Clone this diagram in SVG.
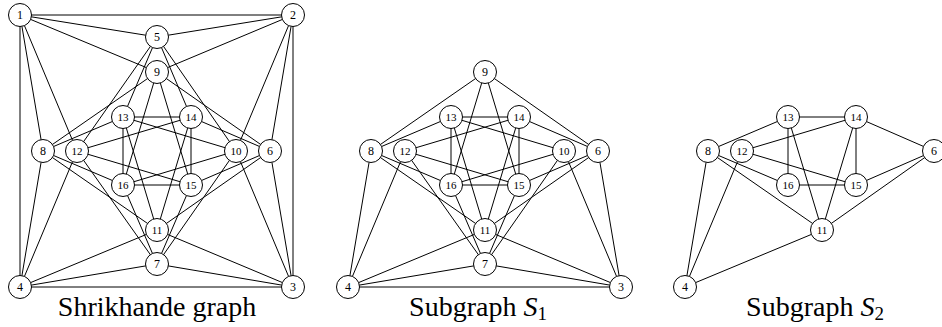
<svg xmlns="http://www.w3.org/2000/svg" width="942" height="327" viewBox="0 0 942 327">
<style>
.e line{stroke:#000;stroke-width:1;fill:none}
.n circle{fill:#fff;stroke:#000;stroke-width:1}
.n text{font-family:"Liberation Serif","DejaVu Serif",serif;font-size:12px;text-anchor:middle;fill:#000}
.n text.d{font-size:11px}
.cap{font-family:"Liberation Serif","DejaVu Serif",serif;font-size:28px;text-anchor:middle;fill:#000}
</style>
<rect width="942" height="327" fill="#fff"/>
<!-- Shrikhande graph -->
<g id="G-edges" class="e">
<line x1="20" y1="15" x2="293" y2="15"/>
<line x1="20" y1="15" x2="20" y2="287"/>
<line x1="20" y1="15" x2="157" y2="37"/>
<line x1="20" y1="15" x2="157" y2="72"/>
<line x1="20" y1="15" x2="43" y2="151"/>
<line x1="20" y1="15" x2="77" y2="151"/>
<line x1="293" y1="15" x2="293" y2="287"/>
<line x1="293" y1="15" x2="157" y2="37"/>
<line x1="293" y1="15" x2="157" y2="72"/>
<line x1="293" y1="15" x2="236" y2="151"/>
<line x1="293" y1="15" x2="270" y2="151"/>
<line x1="293" y1="287" x2="20" y2="287"/>
<line x1="293" y1="287" x2="270" y2="151"/>
<line x1="293" y1="287" x2="236" y2="151"/>
<line x1="293" y1="287" x2="157" y2="230"/>
<line x1="293" y1="287" x2="157" y2="264"/>
<line x1="20" y1="287" x2="43" y2="151"/>
<line x1="20" y1="287" x2="77" y2="151"/>
<line x1="20" y1="287" x2="157" y2="230"/>
<line x1="20" y1="287" x2="157" y2="264"/>
<line x1="157" y1="37" x2="77" y2="151"/>
<line x1="157" y1="37" x2="123" y2="117"/>
<line x1="157" y1="37" x2="191" y2="117"/>
<line x1="157" y1="37" x2="236" y2="151"/>
<line x1="157" y1="72" x2="43" y2="151"/>
<line x1="157" y1="72" x2="270" y2="151"/>
<line x1="157" y1="72" x2="123" y2="185"/>
<line x1="157" y1="72" x2="191" y2="185"/>
<line x1="123" y1="117" x2="191" y2="117"/>
<line x1="123" y1="117" x2="123" y2="185"/>
<line x1="123" y1="117" x2="236" y2="151"/>
<line x1="123" y1="117" x2="43" y2="151"/>
<line x1="123" y1="117" x2="157" y2="230"/>
<line x1="191" y1="117" x2="191" y2="185"/>
<line x1="191" y1="117" x2="270" y2="151"/>
<line x1="191" y1="117" x2="77" y2="151"/>
<line x1="191" y1="117" x2="157" y2="230"/>
<line x1="43" y1="151" x2="123" y2="185"/>
<line x1="43" y1="151" x2="157" y2="230"/>
<line x1="77" y1="151" x2="191" y2="185"/>
<line x1="77" y1="151" x2="157" y2="264"/>
<line x1="123" y1="185" x2="191" y2="185"/>
<line x1="123" y1="185" x2="236" y2="151"/>
<line x1="123" y1="185" x2="157" y2="264"/>
<line x1="191" y1="185" x2="270" y2="151"/>
<line x1="191" y1="185" x2="157" y2="264"/>
<line x1="236" y1="151" x2="157" y2="264"/>
<line x1="270" y1="151" x2="157" y2="230"/>
</g>
<g id="G-n1" class="n"><circle cx="20" cy="15" r="11.5"/><text x="20" y="19">1</text></g>
<g id="G-n2" class="n"><circle cx="293" cy="15" r="11.5"/><text x="293" y="19">2</text></g>
<g id="G-n3" class="n"><circle cx="293" cy="287" r="11.5"/><text x="293" y="291">3</text></g>
<g id="G-n4" class="n"><circle cx="20" cy="287" r="11.5"/><text x="20" y="291">4</text></g>
<g id="G-n5" class="n"><circle cx="157" cy="37" r="11.5"/><text x="157" y="41">5</text></g>
<g id="G-n6" class="n"><circle cx="270" cy="151" r="11.5"/><text x="270" y="155">6</text></g>
<g id="G-n7" class="n"><circle cx="157" cy="264" r="11.5"/><text x="157" y="268">7</text></g>
<g id="G-n8" class="n"><circle cx="43" cy="151" r="11.5"/><text x="43" y="155">8</text></g>
<g id="G-n9" class="n"><circle cx="157" cy="72" r="11.5"/><text x="157" y="76">9</text></g>
<g id="G-n10" class="n"><circle cx="236" cy="151" r="11.5"/><text class="d" x="236" y="155">10</text></g>
<g id="G-n11" class="n"><circle cx="157" cy="230" r="11.5"/><text class="d" x="157" y="234">11</text></g>
<g id="G-n12" class="n"><circle cx="77" cy="151" r="11.5"/><text class="d" x="77" y="155">12</text></g>
<g id="G-n13" class="n"><circle cx="123" cy="117" r="11.5"/><text class="d" x="123" y="121">13</text></g>
<g id="G-n14" class="n"><circle cx="191" cy="117" r="11.5"/><text class="d" x="191" y="121">14</text></g>
<g id="G-n15" class="n"><circle cx="191" cy="185" r="11.5"/><text class="d" x="191" y="189">15</text></g>
<g id="G-n16" class="n"><circle cx="123" cy="185" r="11.5"/><text class="d" x="123" y="189">16</text></g>
<text class="cap" x="157" y="316">Shrikhande graph</text>
<!-- Subgraph S1 -->
<g id="S1-edges" class="e">
<line x1="621" y1="287" x2="348" y2="287"/>
<line x1="621" y1="287" x2="598" y2="151"/>
<line x1="621" y1="287" x2="564" y2="151"/>
<line x1="621" y1="287" x2="485" y2="230"/>
<line x1="621" y1="287" x2="485" y2="264"/>
<line x1="348" y1="287" x2="371" y2="151"/>
<line x1="348" y1="287" x2="405" y2="151"/>
<line x1="348" y1="287" x2="485" y2="230"/>
<line x1="348" y1="287" x2="485" y2="264"/>
<line x1="485" y1="72" x2="371" y2="151"/>
<line x1="485" y1="72" x2="598" y2="151"/>
<line x1="485" y1="72" x2="451" y2="185"/>
<line x1="485" y1="72" x2="519" y2="185"/>
<line x1="451" y1="117" x2="519" y2="117"/>
<line x1="451" y1="117" x2="451" y2="185"/>
<line x1="451" y1="117" x2="564" y2="151"/>
<line x1="451" y1="117" x2="371" y2="151"/>
<line x1="451" y1="117" x2="485" y2="230"/>
<line x1="519" y1="117" x2="519" y2="185"/>
<line x1="519" y1="117" x2="598" y2="151"/>
<line x1="519" y1="117" x2="405" y2="151"/>
<line x1="519" y1="117" x2="485" y2="230"/>
<line x1="371" y1="151" x2="451" y2="185"/>
<line x1="371" y1="151" x2="485" y2="230"/>
<line x1="405" y1="151" x2="519" y2="185"/>
<line x1="405" y1="151" x2="485" y2="264"/>
<line x1="451" y1="185" x2="519" y2="185"/>
<line x1="451" y1="185" x2="564" y2="151"/>
<line x1="451" y1="185" x2="485" y2="264"/>
<line x1="519" y1="185" x2="598" y2="151"/>
<line x1="519" y1="185" x2="485" y2="264"/>
<line x1="564" y1="151" x2="485" y2="264"/>
<line x1="598" y1="151" x2="485" y2="230"/>
</g>
<g id="S1-n3" class="n"><circle cx="621" cy="287" r="11.5"/><text x="621" y="291">3</text></g>
<g id="S1-n4" class="n"><circle cx="348" cy="287" r="11.5"/><text x="348" y="291">4</text></g>
<g id="S1-n6" class="n"><circle cx="598" cy="151" r="11.5"/><text x="598" y="155">6</text></g>
<g id="S1-n7" class="n"><circle cx="485" cy="264" r="11.5"/><text x="485" y="268">7</text></g>
<g id="S1-n8" class="n"><circle cx="371" cy="151" r="11.5"/><text x="371" y="155">8</text></g>
<g id="S1-n9" class="n"><circle cx="485" cy="72" r="11.5"/><text x="485" y="76">9</text></g>
<g id="S1-n10" class="n"><circle cx="564" cy="151" r="11.5"/><text class="d" x="564" y="155">10</text></g>
<g id="S1-n11" class="n"><circle cx="485" cy="230" r="11.5"/><text class="d" x="485" y="234">11</text></g>
<g id="S1-n12" class="n"><circle cx="405" cy="151" r="11.5"/><text class="d" x="405" y="155">12</text></g>
<g id="S1-n13" class="n"><circle cx="451" cy="117" r="11.5"/><text class="d" x="451" y="121">13</text></g>
<g id="S1-n14" class="n"><circle cx="519" cy="117" r="11.5"/><text class="d" x="519" y="121">14</text></g>
<g id="S1-n15" class="n"><circle cx="519" cy="185" r="11.5"/><text class="d" x="519" y="189">15</text></g>
<g id="S1-n16" class="n"><circle cx="451" cy="185" r="11.5"/><text class="d" x="451" y="189">16</text></g>
<text class="cap" x="478" y="316">Subgraph <tspan font-style="italic">S</tspan><tspan font-size="19" dy="4">1</tspan></text>
<!-- Subgraph S2 -->
<g id="S2-edges" class="e">
<line x1="685" y1="287" x2="708" y2="151"/>
<line x1="685" y1="287" x2="742" y2="151"/>
<line x1="685" y1="287" x2="822" y2="230"/>
<line x1="788" y1="117" x2="856" y2="117"/>
<line x1="788" y1="117" x2="788" y2="185"/>
<line x1="788" y1="117" x2="708" y2="151"/>
<line x1="788" y1="117" x2="822" y2="230"/>
<line x1="856" y1="117" x2="856" y2="185"/>
<line x1="856" y1="117" x2="934" y2="151"/>
<line x1="856" y1="117" x2="742" y2="151"/>
<line x1="856" y1="117" x2="822" y2="230"/>
<line x1="708" y1="151" x2="788" y2="185"/>
<line x1="708" y1="151" x2="822" y2="230"/>
<line x1="742" y1="151" x2="856" y2="185"/>
<line x1="788" y1="185" x2="856" y2="185"/>
<line x1="856" y1="185" x2="934" y2="151"/>
<line x1="934" y1="151" x2="822" y2="230"/>
</g>
<g id="S2-n4" class="n"><circle cx="685" cy="287" r="11.5"/><text x="685" y="291">4</text></g>
<g id="S2-n6" class="n"><circle cx="934" cy="151" r="11.5"/><text x="934" y="155">6</text></g>
<g id="S2-n8" class="n"><circle cx="708" cy="151" r="11.5"/><text x="708" y="155">8</text></g>
<g id="S2-n11" class="n"><circle cx="822" cy="230" r="11.5"/><text class="d" x="822" y="234">11</text></g>
<g id="S2-n12" class="n"><circle cx="742" cy="151" r="11.5"/><text class="d" x="742" y="155">12</text></g>
<g id="S2-n13" class="n"><circle cx="788" cy="117" r="11.5"/><text class="d" x="788" y="121">13</text></g>
<g id="S2-n14" class="n"><circle cx="856" cy="117" r="11.5"/><text class="d" x="856" y="121">14</text></g>
<g id="S2-n15" class="n"><circle cx="856" cy="185" r="11.5"/><text class="d" x="856" y="189">15</text></g>
<g id="S2-n16" class="n"><circle cx="788" cy="185" r="11.5"/><text class="d" x="788" y="189">16</text></g>
<text class="cap" x="815" y="316">Subgraph <tspan font-style="italic">S</tspan><tspan font-size="19" dy="4">2</tspan></text>
</svg>
